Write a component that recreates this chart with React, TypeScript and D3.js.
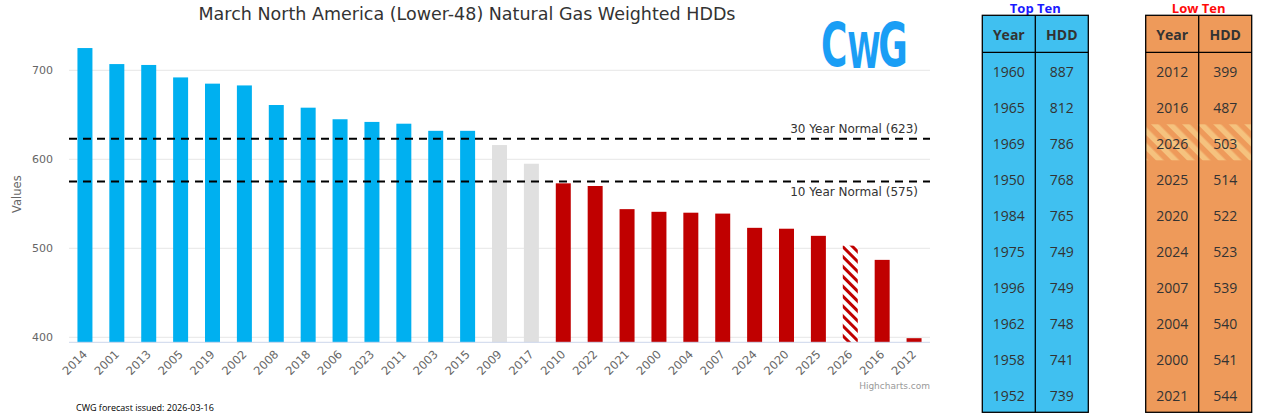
import React from "react";
import * as d3 from "d3";

const years = ["2014","2001","2013","2005","2019","2002","2008","2018","2006","2023","2011","2003","2015","2009","2017","2010","2022","2021","2000","2004","2007","2024","2020","2025","2026","2016","2012"];
const hdd = [725,707,706,692,685,683,661,658,645,642,640,632,632,616,595,573,570,544,541,540,539,523,522,514,503,487,399];
const group = ["top","top","top","top","top","top","top","top","top","top","top","top","top","mid","mid","low","low","low","low","low","low","low","low","low","fcst","low","low"];
const yTicks = [400, 500, 600, 700];
const normals = [
  { label: "30 Year Normal (623)", value: 623, pos: "above" },
  { label: "10 Year Normal (575)", value: 575, pos: "below" },
];
const topYears = ["1960","1965","1969","1950","1984","1975","1996","1962","1958","1952"];
const topHdd = [887,812,786,768,765,749,749,748,741,739];
const lowYears = ["2012","2016","2026","2025","2020","2024","2007","2004","2000","2021"];
const lowHdd = [399,487,503,514,522,523,539,540,541,544];
const forecastYear = "2026";

const W = 1261, H = 420;
const plotL = 69, plotR = 930, baseY = 342.3;
const HC = "'DejaVu Sans', Verdana, sans-serif";
const TF = "'Open Sans', sans-serif";

const colorFor: Record<string, string> = {
  top: "#00b0f0", mid: "#e0e0e0", low: "#c00000", fcst: "url(#hatchRed)",
};

function Table({ x, title, titleColor, bg, ys, vs }: any) {
  const w = 106, colW = 53, top = 15.3, headH = 37, rowH = 36;
  const bottom = top + headH + rowH * ys.length;
  return (
    <g>
      <text x={x + w / 2} y={12.5} textAnchor="middle" fontFamily={TF} fontWeight="bold" fontSize={13} fill={titleColor}>{title}</text>
      <rect x={x} y={top} width={w} height={bottom - top} fill={bg} />
      {ys.map((yr: string, i: number) =>
        yr === forecastYear ? (
          <rect key={"h" + i} x={x} y={top + headH + i * rowH} width={w} height={rowH} fill="url(#hatchOrange)" />
        ) : null
      )}
      <rect x={x} y={top} width={w} height={bottom - top} fill="none" stroke="#000" strokeWidth={1.3} />
      <line x1={x + colW} x2={x + colW} y1={top} y2={bottom} stroke="#000" strokeWidth={1.3} />
      <line x1={x} x2={x + w} y1={top + headH} y2={top + headH} stroke="#000" strokeWidth={1.3} />
      <text x={x + colW / 2} y={top + headH / 2 + 6.5} textAnchor="middle" fontFamily={TF} fontWeight="bold" fontSize={14} fill="#333">Year</text>
      <text x={x + colW * 1.5} y={top + headH / 2 + 6.5} textAnchor="middle" fontFamily={TF} fontWeight="bold" fontSize={14} fill="#333">HDD</text>
      {ys.map((yr: string, i: number) => (
        <g key={i}>
          <text x={x + colW / 2} y={top + headH + i * rowH + rowH / 2 + 6.5} textAnchor="middle" fontFamily={TF} fontSize={14} fill="#333">{yr}</text>
          <text x={x + colW * 1.5} y={top + headH + i * rowH + rowH / 2 + 6.5} textAnchor="middle" fontFamily={TF} fontSize={14} fill="#333">{vs[i]}</text>
        </g>
      ))}
    </g>
  );
}

export default function App() {
  const x = d3.scaleBand<string>().domain(years).range([plotL, plotR]).paddingInner(0.53).paddingOuter(0.265);
  const y = d3.scaleLinear().domain([400, 700]).range([337.3, 70.3]);
  const bw = x.bandwidth();
  return (
    <div style={{ position: "absolute", left: 0, top: 0 }}>
      <svg width={W} height={H} style={{ display: "block", background: "#fff" }}>
        <defs>
          <pattern id="hatchRed" patternUnits="userSpaceOnUse" width="7" height="7" patternTransform="rotate(-45)">
            <rect width="7" height="7" fill="#fff" />
            <rect x="0" y="0" width="3" height="7" fill="#c00000" />
          </pattern>
          <pattern id="hatchOrange" patternUnits="userSpaceOnUse" width="11" height="11" patternTransform="rotate(-45)">
            <rect x="0" y="0" width="5.5" height="11" fill="#f5c27e" />
          </pattern>
        </defs>
        <text x={467} y={20} textAnchor="middle" fontFamily={HC} fontSize={17.5} fill="#333">March North America (Lower-48) Natural Gas Weighted HDDs</text>
        {yTicks.map((t) => (
          <g key={t}>
            <line x1={plotL} x2={plotR} y1={y(t)} y2={y(t)} stroke="#e6e6e6" strokeWidth={1} />
            <text x={53} y={y(t) + 4} textAnchor="end" fontFamily={HC} fontSize={11} fill="#666">{t}</text>
          </g>
        ))}
        <text transform={`translate(21,${(46 + baseY) / 2}) rotate(-90)`} textAnchor="middle" fontFamily={HC} fontSize={11.5} fill="#666">Values</text>
        <text transform="translate(821,66) scale(0.6,1)" fontFamily="'DejaVu Sans', sans-serif" fontWeight="bold" fontSize={60} fill="#1a9ef5">
          <tspan x={0} y={0}>C</tspan>
          <tspan x={44} y={2} fontSize={50}>W</tspan>
          <tspan x={95.5} y={0}>G</tspan>
        </text>
        {years.map((yr, i) => (
          <rect key={yr} x={x(yr)} y={y(hdd[i])} width={bw} height={baseY - y(hdd[i])} fill={colorFor[group[i]]} />
        ))}
        <line x1={plotL} x2={plotR} y1={baseY} y2={baseY} stroke="#ccd6eb" strokeWidth={1} />
        {normals.map((n) => (
          <g key={n.label}>
            <line x1={plotL} x2={plotR} y1={y(n.value)} y2={y(n.value)} stroke="#000" strokeWidth={2} strokeDasharray="8,6" />
            <text x={918} y={n.pos === "above" ? y(n.value) - 6 : y(n.value) + 14} textAnchor="end" fontFamily={HC} fontSize={12} fill="#333">{n.label}</text>
          </g>
        ))}
        {years.map((yr) => (
          <text key={"l" + yr} transform={`translate(${(x(yr) as number) + bw / 2 + 3},${355}) rotate(-45)`} textAnchor="end" fontFamily={HC} fontSize={11.5} fill="#666">{yr}</text>
        ))}
        <text x={930} y={389} textAnchor="end" fontFamily={HC} fontSize={9} fill="#999">Highcharts.com</text>
        <text x={76} y={411} fontFamily={TF} fontSize={9} fill="#000">CWG forecast issued: 2026-03-16</text>
        <Table x={982.3} title="Top Ten" titleColor="#1a1aff" bg="#40c0f0" ys={topYears} vs={topHdd} />
        <Table x={1145.7} title="Low Ten" titleColor="#ff0a0a" bg="#ee9a5a" ys={lowYears} vs={lowHdd} />
      </svg>
    </div>
  );
}
